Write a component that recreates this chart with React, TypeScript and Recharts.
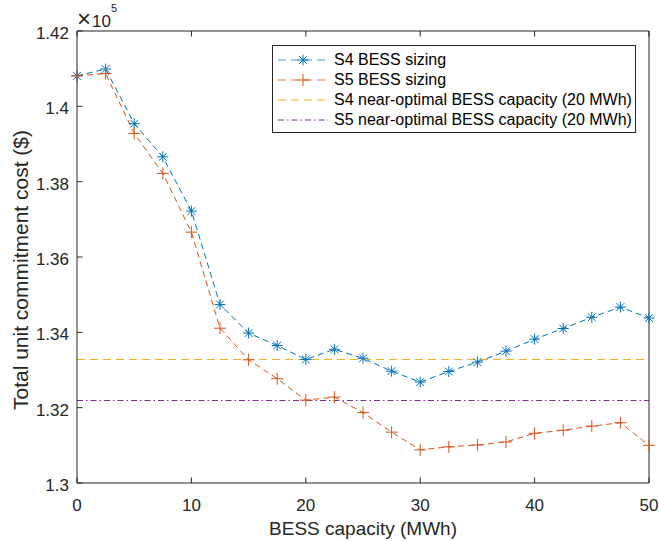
import { LineChart, Line, XAxis, YAxis, ReferenceLine, Legend, Label } from 'recharts';

// --- Data (cost in units of 1e5 $) ---

const capacity = [0, 2.5, 5, 7.5, 10, 12.5, 15, 17.5, 20, 22.5, 25, 27.5, 30, 32.5, 35, 37.5, 40, 42.5, 45, 47.5, 50];
const s4Cost = [1.4081, 1.4099, 1.3954, 1.3866, 1.3722, 1.3474, 1.3398, 1.3365, 1.3328, 1.3355, 1.3331, 1.3297, 1.3268, 1.3296, 1.3321, 1.335, 1.3382, 1.341, 1.344, 1.3467, 1.3438];
const s5Cost = [1.4081, 1.4087, 1.3928, 1.3822, 1.3666, 1.3411, 1.3327, 1.3277, 1.322, 1.3228, 1.3187, 1.3135, 1.3088, 1.3096, 1.3101, 1.3109, 1.3132, 1.314, 1.3151, 1.316, 1.31];
const s4Optimal = 1.3328;
const s5Optimal = 1.3219;

const xTicks = [0, 10, 20, 30, 40, 50];
const yTicks = [1.3, 1.32, 1.34, 1.36, 1.38, 1.4, 1.42];

const legendLabels = [
  'S4 BESS sizing',
  'S5 BESS sizing',
  'S4 near-optimal BESS capacity (20 MWh)',
  'S5 near-optimal BESS capacity (20 MWh)',
];

const data = capacity.map((c, i) => ({ capacity: c, s4: s4Cost[i], s5: s5Cost[i] }));

// --- Styles ---

const FONT = '"Liberation Sans", Arial, Helvetica, sans-serif';
const AXIS = '#262626';
const BLUE = '#0072BD';
const ORANGE = '#D95319';
const YELLOW = '#EDB120';
const PURPLE = '#7E2F8E';
const TICK_LEN = 5.5;

// --- Markers ---

const Asterisk = ({ cx, cy, color }: any) => {
  const r = 5.5;
  const d = r * 0.707;
  return (
    <g stroke={color} strokeWidth={1}>
      <line x1={cx - r} y1={cy} x2={cx + r} y2={cy} />
      <line x1={cx} y1={cy - r} x2={cx} y2={cy + r} />
      <line x1={cx - d} y1={cy - d} x2={cx + d} y2={cy + d} />
      <line x1={cx - d} y1={cy + d} x2={cx + d} y2={cy - d} />
    </g>
  );
};

const Plus = ({ cx, cy, color }: any) => {
  const r = 6;
  return (
    <g stroke={color} strokeWidth={1}>
      <line x1={cx - r} y1={cy} x2={cx + r} y2={cy} />
      <line x1={cx} y1={cy - r} x2={cx} y2={cy + r} />
    </g>
  );
};

const renderS4Dot = (props: any) => <Asterisk key={`s4-${props.index}`} cx={props.cx} cy={props.cy} color={BLUE} />;
const renderS5Dot = (props: any) => <Plus key={`s5-${props.index}`} cx={props.cx} cy={props.cy} color={ORANGE} />;

// --- Ticks (MATLAB style: pointing inward) ---

const formatY = (v: number) => String(Number(v.toFixed(2)));

const BottomTick = ({ x, y, payload }: any) => (
  <g>
    <line x1={x} y1={y} x2={x} y2={y - TICK_LEN} stroke={AXIS} />
    <text x={x} y={y + 28} textAnchor="middle" fontSize={17} fill={AXIS} fontFamily={FONT}>
      {payload.value}
    </text>
  </g>
);

const TopTick = ({ x, y }: any) => <line x1={x} y1={y} x2={x} y2={y + TICK_LEN} stroke={AXIS} />;

const LeftTick = ({ x, y, payload }: any) => (
  <g>
    <line x1={x} y1={y} x2={x + TICK_LEN} y2={y} stroke={AXIS} />
    <text x={x - 8} y={y + 8} textAnchor="end" fontSize={17} fill={AXIS} fontFamily={FONT}>
      {formatY(payload.value)}
    </text>
  </g>
);

const RightTick = ({ x, y }: any) => <line x1={x} y1={y} x2={x - TICK_LEN} y2={y} stroke={AXIS} />;

const YAxisTitle = () => {
  const x = 28;
  const y = 270;
  return (
    <g>
      <text
        x={x}
        y={y}
        transform={`rotate(-90, ${x}, ${y})`}
        textAnchor="middle"
        fontSize={21}
        fill={AXIS}
        fontFamily={FONT}
      >
        Total unit commitment cost ($)
      </text>
      {/* exponent label above the axis */}
      <text x={77} y={26.7} fill={AXIS} fontFamily={FONT}>
        <tspan fontSize={24}>×</tspan>
        <tspan fontSize={17} dx={1}>10</tspan>
        <tspan fontSize={11} dy={-15}>5</tspan>
      </text>
    </g>
  );
};

// --- Legend ---

const LegendSample = ({ index }: { index: number }) => {
  const w = 50;
  const mid = 10;
  if (index === 0) {
    return (
      <svg width={w} height={20}>
        <line x1={0} y1={mid} x2={w} y2={mid} stroke={BLUE} strokeDasharray="8 5" strokeOpacity={0.7} />
        <Asterisk cx={w / 2} cy={mid} color={BLUE} />
      </svg>
    );
  }
  if (index === 1) {
    return (
      <svg width={w} height={20}>
        <line x1={0} y1={mid} x2={w} y2={mid} stroke={ORANGE} strokeDasharray="8 5" strokeOpacity={0.8} />
        <Plus cx={w / 2} cy={mid} color={ORANGE} />
      </svg>
    );
  }
  if (index === 2) {
    return (
      <svg width={w} height={20}>
        <line x1={0} y1={mid} x2={w} y2={mid} stroke={YELLOW} strokeDasharray="8 5" />
      </svg>
    );
  }
  return (
    <svg width={w} height={20}>
      <line x1={0} y1={mid} x2={w} y2={mid} stroke={PURPLE} strokeDasharray="6 3 1.5 3" />
    </svg>
  );
};

const renderLegend = () => (
  <div
    style={{
      border: `1px solid ${AXIS}`,
      background: '#fff',
      padding: '4px 3px 2px 5px',
      fontFamily: FONT,
      fontSize: 16,
      color: '#000',
      lineHeight: '20px',
    }}
  >
    {legendLabels.map((label, i) => (
      <div key={label} style={{ display: 'flex', alignItems: 'center', height: 20 }}>
        <LegendSample index={i} />
        <span style={{ marginLeft: 6, whiteSpace: 'nowrap' }}>{label}</span>
      </div>
    ))}
  </div>
);

export default function App() {
  return (
    <div style={{ position: 'absolute', left: 0, top: 0, width: 659, height: 541, background: '#fff' }}>
      <LineChart width={659} height={541} data={data} margin={{ top: 0, right: 0, bottom: 0, left: 0 }}>
        <XAxis
          dataKey="capacity"
          type="number"
          domain={[0, 50]}
          ticks={xTicks}
          height={58}
          axisLine={{ stroke: AXIS }}
          tickLine={false}
          tickSize={0}
          tickMargin={0}
          tick={<BottomTick />}
          interval={0}
        >
          <Label value="BESS capacity (MWh)" position="insideBottom" offset={6} fontSize={19} fill={AXIS} fontFamily={FONT} />
        </XAxis>
        <XAxis
          xAxisId="top"
          orientation="top"
          dataKey="capacity"
          type="number"
          domain={[0, 50]}
          ticks={xTicks}
          height={31}
          axisLine={{ stroke: AXIS }}
          tickLine={false}
          tickSize={0}
          tickMargin={0}
          tick={<TopTick />}
          interval={0}
        />
        <YAxis
          type="number"
          domain={[1.3, 1.42]}
          ticks={yTicks}
          width={77}
          axisLine={{ stroke: AXIS }}
          tickLine={false}
          tickSize={0}
          tickMargin={0}
          tick={<LeftTick />}
          interval={0}
          label={<YAxisTitle />}
        />
        <YAxis
          yAxisId="right"
          orientation="right"
          type="number"
          domain={[1.3, 1.42]}
          ticks={yTicks}
          width={10}
          axisLine={{ stroke: AXIS }}
          tickLine={false}
          tickSize={0}
          tickMargin={0}
          tick={<RightTick />}
          interval={0}
        />
        <Legend
          layout="vertical"
          align="center"
          verticalAlign="middle"
          content={renderLegend}
          wrapperStyle={{ left: 272, top: 45, width: 'auto', height: 'auto' }}
        />
        <Line
          dataKey="s4"
          stroke={BLUE}
          strokeWidth={1}
          strokeDasharray="6 4"
          dot={renderS4Dot}
          activeDot={false}
          isAnimationActive={false}
        />
        <Line
          dataKey="s5"
          stroke={ORANGE}
          strokeWidth={1}
          strokeDasharray="6 4"
          dot={renderS5Dot}
          activeDot={false}
          isAnimationActive={false}
        />
        <ReferenceLine y={s4Optimal} stroke={YELLOW} strokeDasharray="8 5" />
        <ReferenceLine y={s5Optimal} stroke={PURPLE} strokeDasharray="6 3 1.5 3" />
      </LineChart>
    </div>
  );
}
